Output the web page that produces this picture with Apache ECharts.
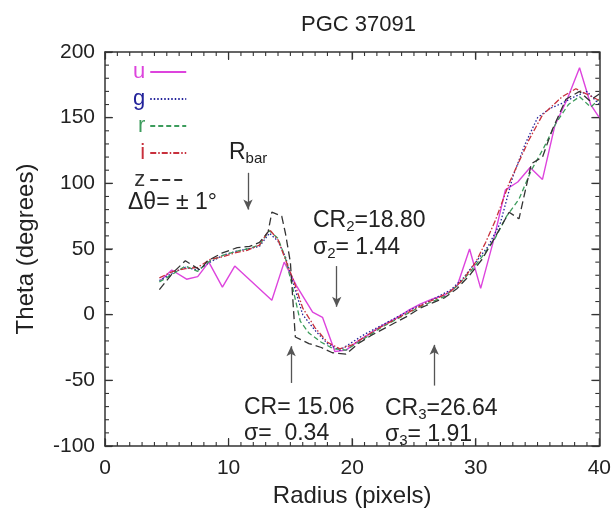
<!DOCTYPE html>
<html>
<head>
<meta charset="utf-8">
<script src="https://cdn.jsdelivr.net/npm/echarts@6/dist/echarts.min.js"></script>
<style>html,body{margin:0;padding:0;background:#fff}#c{width:614px;height:521px}</style>
</head>
<body>
<div id="c"></div>
<script>
// ---- data ----
const xTicks = [0, 10, 20, 30, 40];
const yTicks = [-100, -50, 0, 50, 100, 150, 200];
const xMinorPerMajor = 10;
const yMinorPerMajor = 5;

const radiusU = [4.5, 5.4, 6.6, 7.5, 8.4, 9.5, 10.5, 13.5, 14.5, 15.5, 16.8, 17.6, 18.6, 19.5, 20.5, 21.5, 22.5, 23.5, 24.5, 25.5, 26.5, 27.5, 28.5, 29.5, 30.4, 31.4, 32.4, 33.4, 34.4, 35.4, 36.4, 37.4, 38.4, 39.3, 40];
const thetaU  = [26, 34, 27, 29, 40, 21, 37, 11, 40, 22, 2, -2, -28, -27, -20, -14, -8, -3, 3, 8, 12, 15, 22, 50, 20, 55, 95, 101, 112, 103, 144, 164, 188, 160, 150];

const radiusG = [4.4, 5.5, 6.5, 7.5, 8.5, 9.5, 10.5, 11.5, 12.5, 13.3, 14, 14.6, 15.3, 16, 17, 18, 19, 20, 21, 22, 23, 24, 25, 26, 27, 28, 29, 30, 31, 32, 33, 34, 35, 36, 37, 38, 39, 40];
const thetaG  = [26, 32, 36, 34, 40, 45, 48, 50, 52, 62, 56, 44, 22, 0, -12, -22, -27, -21, -15, -10, -5, 0, 5, 9, 14, 19, 28, 40, 52, 70, 105, 130, 150, 157, 161, 166, 170, 160];

const radiusR = [4.4, 5.5, 6.5, 7.5, 8.5, 9.5, 10.5, 11.5, 12.5, 13.3, 14, 14.6, 15.2, 15.8, 16.5, 17.5, 18.5, 19.5, 20.5, 21.5, 22.5, 23.5, 24.5, 25.5, 26.5, 27.5, 28.5, 29.5, 30.5, 31.5, 32.5, 33.5, 34.5, 35.5, 36.5, 37.5, 38.4, 39.3, 40];
const thetaR  = [25, 31, 37, 33, 41, 45, 48, 50, 53, 64, 58, 43, 20, -5, -14, -21, -26, -27, -21, -15, -9, -4, 1, 6, 10, 14, 22, 32, 44, 57, 75, 88, 110, 127, 146, 160, 166, 158, 164];

const radiusI = [4.4, 5.5, 6.5, 7.5, 8.5, 9.5, 10.5, 11.5, 12.5, 13.3, 14, 14.6, 15.3, 16, 17, 18, 19, 20, 21, 22, 23, 24, 25, 26, 27, 28, 29, 30, 30.8, 31.6, 32.7, 34.3, 35.4, 37, 38.1, 39.4, 40];
const thetaI  = [28, 33, 35, 36, 42, 44, 47, 49, 53, 65, 57, 42, 25, 5, -10, -21, -26, -23, -17, -11, -6, -1, 4, 9, 13, 18, 27, 40, 55, 72, 100, 133, 152, 166, 172, 166, 163];

const radiusZ = [4.4, 5.5, 6.5, 7.7, 8.3, 9.5, 10.7, 11.7, 12.5, 13.2, 13.5, 14.3, 14.6, 15.0, 15.4, 16.5, 17.5, 18.4, 19.5, 20.5, 21.5, 22.5, 23.5, 24.5, 25.5, 26.5, 27.5, 28.5, 29.5, 30.5, 31.5, 32.7, 33.5, 34.5, 35.4, 36.2, 37.3, 38.4, 39.2, 40];
const thetaZ  = [19, 32, 41, 34, 41, 47, 51, 52, 55, 63, 78, 75, 62, 40, -17, -22, -25, -29, -30, -22, -16, -11, -6, -1, 5, 9, 13, 20, 30, 42, 58, 78, 73, 115, 120, 141, 164, 170, 163, 168];

// annotation arrows: [radius, thetaFrom, thetaTo]
const arrowRbar = [11.57, 108, 80];
const arrowCR   = [15.06, -52, -24];
const arrowCR2  = [18.75, 37, 6];
const arrowCR3  = [26.64, -54, -23];

const bandNames  = ['u', 'g', 'r', 'i', 'z'];
const bandColors = ['#dd44dd', '#22229a', '#3c9c5c', '#c8303c', '#333333'];
const bandDash   = ['solid', [1.5, 2], [5, 3], [6, 2, 1.5, 2], [8, 4]];

const pair = (xs, ys) => xs.map((x, k) => [x, ys[k]]);
const bandData = [pair(radiusU, thetaU), pair(radiusG, thetaG), pair(radiusR, thetaR), pair(radiusI, thetaI), pair(radiusZ, thetaZ)];

const FONT = 'Liberation Sans, Arial, sans-serif';
const X_MIN = xTicks[0], X_MAX = xTicks[xTicks.length - 1];
const Y_MIN = yTicks[0], Y_MAX = yTicks[yTicks.length - 1];

// tick positions (major + minor) derived from the tick label arrays
function tickList(major, perMajor) {
  const step = (major[1] - major[0]) / perMajor;
  const out = [];
  for (let k = 0; k <= (major.length - 1) * perMajor; k++) {
    out.push([major[0] + k * step, k % perMajor === 0 ? 1 : 0]);
  }
  return out;
}
const xTickData = tickList(xTicks, xMinorPerMajor);
const yTickData = tickList(yTicks, yMinorPerMajor);

const arrows = [arrowRbar, arrowCR, arrowCR2, arrowCR3].map(a => [{coord: [a[0], a[1]]}, {coord: [a[0], a[2]]}]);

const series = bandNames.map((n, k) => ({
  name: n, type: 'line', data: bandData[k], symbol: 'none', showSymbol: false,
  lineStyle: {color: bandColors[k], width: k === 0 ? 1.4 : 1.3, type: bandDash[k]},
  itemStyle: {color: bandColors[k]}
}));
series[4].markLine = {silent: true, symbol: ['none', 'arrow'], symbolSize: [7, 10],
  lineStyle: {color: '#555', width: 1.3, type: 'solid'}, label: {show: false}, emphasis: {disabled: true}, data: arrows};

const TICK_STYLE = {stroke: '#333', lineWidth: 1.1};
// inward ticks along bottom and top frame edges
series.push({
  type: 'custom', name: 'xticks', silent: true, z: 10, clip: false,
  data: xTickData,
  renderItem: function (params, api) {
    const v = api.value(0), len = api.value(1) ? 8 : 4;
    const b = api.coord([v, Y_MIN]), t = api.coord([v, Y_MAX]);
    return {type: 'group', children: [
      {type: 'line', shape: {x1: b[0], y1: b[1], x2: b[0], y2: b[1] - len}, style: TICK_STYLE},
      {type: 'line', shape: {x1: t[0], y1: t[1], x2: t[0], y2: t[1] + len}, style: TICK_STYLE}
    ]};
  }
});
// inward ticks along left and right frame edges
series.push({
  type: 'custom', name: 'yticks', silent: true, z: 10, clip: false,
  data: yTickData,
  renderItem: function (params, api) {
    const v = api.value(0), len = api.value(1) ? 8 : 4;
    const l = api.coord([X_MIN, v]), r = api.coord([X_MAX, v]);
    return {type: 'group', children: [
      {type: 'line', shape: {x1: l[0], y1: l[1], x2: l[0] + len, y2: l[1]}, style: TICK_STYLE},
      {type: 'line', shape: {x1: r[0], y1: r[1], x2: r[0] - len, y2: r[1]}, style: TICK_STYLE}
    ]};
  }
});

const axisLabelStyle = {fontSize: 21, color: '#222', fontFamily: FONT};
function tick() { return {show: true, inside: true, length: 7, lineStyle: {color: '#333', width: 1.2}}; }
function axLine() { return {show: true, onZero: false, lineStyle: {color: '#333', width: 1.5}}; }

const sub = {fontSize: 15, fontFamily: FONT, color: '#222', padding: [11, 0, 0, 0]};
const base = {fontSize: 23, fontFamily: FONT, color: '#222'};
function txt(x, y, text) {
  return {type: 'text', x: x, y: y, style: {text: text, rich: {b: base, s: sub}, font: '23px ' + FONT, fill: '#222'}};
}

const chart = echarts.init(document.getElementById('c'));
chart.setOption({
  animation: false,
  title: {text: 'PGC 37091', left: 296, top: 9, textStyle: {fontSize: 22, fontWeight: 'normal', color: '#222', fontFamily: FONT}},
  grid: {left: 105, right: 14, top: 52, bottom: 75},
  legend: {
    orient: 'vertical', left: 128, top: 56, align: 'right', itemWidth: 36, itemHeight: 10, itemGap: 5,
    selectedMode: false,
    itemStyle: {color: 'rgba(0,0,0,0)', borderWidth: 0},
    textStyle: {fontSize: 22, fontFamily: FONT},
    data: bandNames.map((n, k) => ({name: n, textStyle: {color: bandColors[k]}}))
  },
  xAxis: [
    {type: 'value', min: X_MIN, max: X_MAX, interval: 10, position: 'bottom',
     name: 'Radius (pixels)', nameLocation: 'middle', nameGap: 38,
     nameTextStyle: {fontSize: 24, color: '#222', fontFamily: FONT},
     axisLine: axLine(), axisTick: tick(),
     axisLabel: Object.assign({margin: 12}, axisLabelStyle),
     splitLine: {show: false}},
    {type: 'value', min: X_MIN, max: X_MAX, interval: 10, position: 'top',
     axisLine: axLine(), axisTick: tick(),
     axisLabel: {show: false}, splitLine: {show: false}}
  ],
  yAxis: [
    {type: 'value', min: Y_MIN, max: Y_MAX, interval: 50, position: 'left',
     name: 'Theta (degrees)', nameLocation: 'middle', nameGap: 67, nameRotate: 90,
     nameTextStyle: {fontSize: 24, color: '#222', fontFamily: FONT},
     axisLine: axLine(), axisTick: tick(),
     axisLabel: Object.assign({margin: 10}, axisLabelStyle),
     splitLine: {show: false}},
    {type: 'value', min: Y_MIN, max: Y_MAX, interval: 50, position: 'right',
     axisLine: axLine(), axisTick: tick(),
     axisLabel: {show: false}, splitLine: {show: false}}
  ],
  series: series,
  graphic: [
    txt(128, 191, '{b|Δθ= ± 1°}'),
    txt(229, 140, '{b|R}{s|bar}'),
    txt(313, 208, '{b|CR}{s|2}{b|=18.80}'),
    txt(313, 235, '{b|σ}{s|2}{b|= 1.44}'),
    txt(244, 396, '{b|CR= 15.06}'),
    txt(244, 422, '{b|σ=  0.34}'),
    txt(385, 396, '{b|CR}{s|3}{b|=26.64}'),
    txt(385, 422, '{b|σ}{s|3}{b|= 1.91}')
  ]
});
</script>
</body>
</html>
